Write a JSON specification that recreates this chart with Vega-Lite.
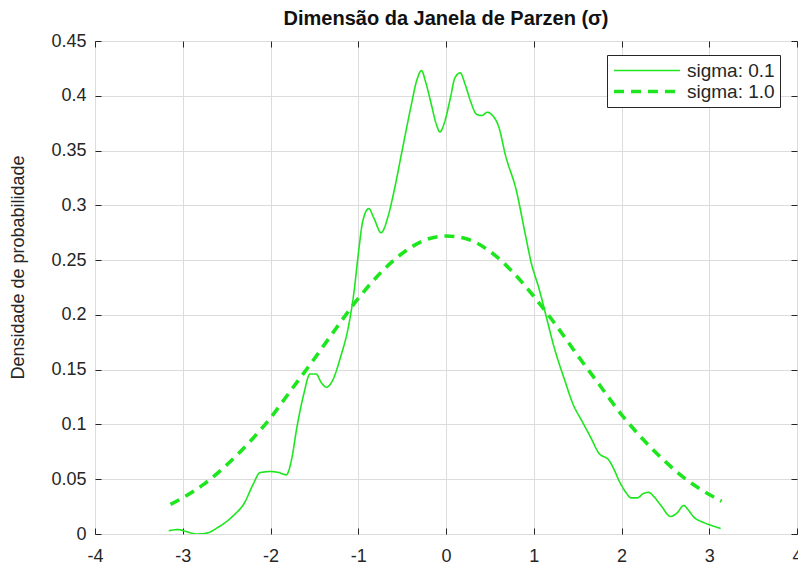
{
  "$schema": "https://vega.github.io/schema/vega-lite/v6.json",
  "width": 702,
  "height": 493,
  "autosize": "none",
  "padding": {"left": 95, "top": 41, "right": 1, "bottom": 31},
  "background": "white",
  "title": {
    "text": "Dimensão da Janela de Parzen (σ)",
    "font": "Liberation Sans",
    "fontSize": 20,
    "fontWeight": "bold",
    "color": "#111111",
    "anchor": "middle",
    "baseline": "alphabetic",
    "offset": 12,
    "dy": 25
  },
  "config": {
    "view": {"stroke": "#262626", "strokeWidth": 1},
    "axis": {
      "labelFont": "Liberation Sans",
      "labelFontSize": 18,
      "labelColor": "#262626",
      "titleFont": "Liberation Sans",
      "titleFontSize": 18,
      "titleFontWeight": "normal",
      "titleColor": "#262626",
      "domain": false,
      "tickColor": "#262626",
      "tickSize": -6,
      "gridColor": "#dcdcdc",
      "gridWidth": 1
    }
  },
  "data": {
    "values": [
      {"x": -3.14, "y": 0.027, "serie": "sigma: 1.0"},
      {"x": -3.0, "y": 0.033, "serie": "sigma: 1.0"},
      {"x": -2.75, "y": 0.046, "serie": "sigma: 1.0"},
      {"x": -2.5, "y": 0.063, "serie": "sigma: 1.0"},
      {"x": -2.25, "y": 0.083, "serie": "sigma: 1.0"},
      {"x": -2.0, "y": 0.106, "serie": "sigma: 1.0"},
      {"x": -1.75, "y": 0.133, "serie": "sigma: 1.0"},
      {"x": -1.5, "y": 0.160, "serie": "sigma: 1.0"},
      {"x": -1.25, "y": 0.188, "serie": "sigma: 1.0"},
      {"x": -1.0, "y": 0.215, "serie": "sigma: 1.0"},
      {"x": -0.75, "y": 0.238, "serie": "sigma: 1.0"},
      {"x": -0.5, "y": 0.256, "serie": "sigma: 1.0"},
      {"x": -0.25, "y": 0.268, "serie": "sigma: 1.0"},
      {"x": 0.0, "y": 0.272, "serie": "sigma: 1.0"},
      {"x": 0.25, "y": 0.269, "serie": "sigma: 1.0"},
      {"x": 0.5, "y": 0.258, "serie": "sigma: 1.0"},
      {"x": 0.75, "y": 0.240, "serie": "sigma: 1.0"},
      {"x": 1.0, "y": 0.217, "serie": "sigma: 1.0"},
      {"x": 1.25, "y": 0.191, "serie": "sigma: 1.0"},
      {"x": 1.5, "y": 0.163, "serie": "sigma: 1.0"},
      {"x": 1.75, "y": 0.136, "serie": "sigma: 1.0"},
      {"x": 2.0, "y": 0.109, "serie": "sigma: 1.0"},
      {"x": 2.25, "y": 0.086, "serie": "sigma: 1.0"},
      {"x": 2.5, "y": 0.066, "serie": "sigma: 1.0"},
      {"x": 2.75, "y": 0.049, "serie": "sigma: 1.0"},
      {"x": 3.0, "y": 0.036, "serie": "sigma: 1.0"},
      {"x": 3.14, "y": 0.030, "serie": "sigma: 1.0"},

      {"x": -3.16, "y": 0.003, "serie": "sigma: 0.1"},
      {"x": -3.05, "y": 0.004, "serie": "sigma: 0.1"},
      {"x": -2.95, "y": 0.002, "serie": "sigma: 0.1"},
      {"x": -2.85, "y": 0.000, "serie": "sigma: 0.1"},
      {"x": -2.72, "y": 0.001, "serie": "sigma: 0.1"},
      {"x": -2.6, "y": 0.006, "serie": "sigma: 0.1"},
      {"x": -2.42, "y": 0.017, "serie": "sigma: 0.1"},
      {"x": -2.3, "y": 0.028, "serie": "sigma: 0.1"},
      {"x": -2.2, "y": 0.045, "serie": "sigma: 0.1"},
      {"x": -2.12, "y": 0.056, "serie": "sigma: 0.1"},
      {"x": -2.0, "y": 0.057, "serie": "sigma: 0.1"},
      {"x": -1.9, "y": 0.056, "serie": "sigma: 0.1"},
      {"x": -1.82, "y": 0.054, "serie": "sigma: 0.1"},
      {"x": -1.76, "y": 0.068, "serie": "sigma: 0.1"},
      {"x": -1.7, "y": 0.097, "serie": "sigma: 0.1"},
      {"x": -1.62, "y": 0.128, "serie": "sigma: 0.1"},
      {"x": -1.55, "y": 0.146, "serie": "sigma: 0.1"},
      {"x": -1.48, "y": 0.146, "serie": "sigma: 0.1"},
      {"x": -1.42, "y": 0.138, "serie": "sigma: 0.1"},
      {"x": -1.36, "y": 0.134, "serie": "sigma: 0.1"},
      {"x": -1.3, "y": 0.139, "serie": "sigma: 0.1"},
      {"x": -1.2, "y": 0.162, "serie": "sigma: 0.1"},
      {"x": -1.11, "y": 0.190, "serie": "sigma: 0.1"},
      {"x": -1.05, "y": 0.220, "serie": "sigma: 0.1"},
      {"x": -1.0, "y": 0.255, "serie": "sigma: 0.1"},
      {"x": -0.95, "y": 0.285, "serie": "sigma: 0.1"},
      {"x": -0.88, "y": 0.297, "serie": "sigma: 0.1"},
      {"x": -0.82, "y": 0.288, "serie": "sigma: 0.1"},
      {"x": -0.74, "y": 0.275, "serie": "sigma: 0.1"},
      {"x": -0.66, "y": 0.290, "serie": "sigma: 0.1"},
      {"x": -0.6, "y": 0.310, "serie": "sigma: 0.1"},
      {"x": -0.5, "y": 0.350, "serie": "sigma: 0.1"},
      {"x": -0.4, "y": 0.390, "serie": "sigma: 0.1"},
      {"x": -0.33, "y": 0.415, "serie": "sigma: 0.1"},
      {"x": -0.28, "y": 0.423, "serie": "sigma: 0.1"},
      {"x": -0.23, "y": 0.412, "serie": "sigma: 0.1"},
      {"x": -0.17, "y": 0.393, "serie": "sigma: 0.1"},
      {"x": -0.11, "y": 0.374, "serie": "sigma: 0.1"},
      {"x": -0.07, "y": 0.367, "serie": "sigma: 0.1"},
      {"x": -0.02, "y": 0.375, "serie": "sigma: 0.1"},
      {"x": 0.05, "y": 0.398, "serie": "sigma: 0.1"},
      {"x": 0.1, "y": 0.416, "serie": "sigma: 0.1"},
      {"x": 0.16, "y": 0.421, "serie": "sigma: 0.1"},
      {"x": 0.22, "y": 0.410, "serie": "sigma: 0.1"},
      {"x": 0.28, "y": 0.395, "serie": "sigma: 0.1"},
      {"x": 0.35, "y": 0.383, "serie": "sigma: 0.1"},
      {"x": 0.41, "y": 0.382, "serie": "sigma: 0.1"},
      {"x": 0.47, "y": 0.385, "serie": "sigma: 0.1"},
      {"x": 0.53, "y": 0.382, "serie": "sigma: 0.1"},
      {"x": 0.6, "y": 0.372, "serie": "sigma: 0.1"},
      {"x": 0.68, "y": 0.345, "serie": "sigma: 0.1"},
      {"x": 0.8, "y": 0.314, "serie": "sigma: 0.1"},
      {"x": 0.9, "y": 0.275, "serie": "sigma: 0.1"},
      {"x": 0.97, "y": 0.248, "serie": "sigma: 0.1"},
      {"x": 1.06, "y": 0.224, "serie": "sigma: 0.1"},
      {"x": 1.15, "y": 0.196, "serie": "sigma: 0.1"},
      {"x": 1.23, "y": 0.171, "serie": "sigma: 0.1"},
      {"x": 1.35, "y": 0.141, "serie": "sigma: 0.1"},
      {"x": 1.45, "y": 0.118, "serie": "sigma: 0.1"},
      {"x": 1.55, "y": 0.103, "serie": "sigma: 0.1"},
      {"x": 1.65, "y": 0.088, "serie": "sigma: 0.1"},
      {"x": 1.74, "y": 0.074, "serie": "sigma: 0.1"},
      {"x": 1.86, "y": 0.067, "serie": "sigma: 0.1"},
      {"x": 1.92, "y": 0.058, "serie": "sigma: 0.1"},
      {"x": 1.97, "y": 0.049, "serie": "sigma: 0.1"},
      {"x": 2.05, "y": 0.038, "serie": "sigma: 0.1"},
      {"x": 2.11, "y": 0.033, "serie": "sigma: 0.1"},
      {"x": 2.18, "y": 0.033, "serie": "sigma: 0.1"},
      {"x": 2.25, "y": 0.037, "serie": "sigma: 0.1"},
      {"x": 2.31, "y": 0.038, "serie": "sigma: 0.1"},
      {"x": 2.37, "y": 0.034, "serie": "sigma: 0.1"},
      {"x": 2.45, "y": 0.026, "serie": "sigma: 0.1"},
      {"x": 2.56, "y": 0.016, "serie": "sigma: 0.1"},
      {"x": 2.63, "y": 0.019, "serie": "sigma: 0.1"},
      {"x": 2.71, "y": 0.026, "serie": "sigma: 0.1"},
      {"x": 2.76, "y": 0.022, "serie": "sigma: 0.1"},
      {"x": 2.83, "y": 0.015, "serie": "sigma: 0.1"},
      {"x": 2.92, "y": 0.011, "serie": "sigma: 0.1"},
      {"x": 3.02, "y": 0.008, "serie": "sigma: 0.1"},
      {"x": 3.13, "y": 0.005, "serie": "sigma: 0.1"}
    ]
  },
  "layer": [
    {
      "mark": {"type": "line", "interpolate": "monotone", "color": "#1ee61e", "clip": true},
      "encoding": {
        "x": {
          "field": "x",
          "type": "quantitative",
          "scale": {"domain": [-4, 4], "nice": false, "zero": false},
          "axis": {
            "orient": "bottom",
            "title": null,
            "values": [-4, -3, -2, -1, 0, 1, 2, 3, 4],
            "labelExpr": "datum.value + ''",
            "labelPadding": 19,
            "labelFlush": false,
            "labelOverlap": false
          }
        },
        "y": {
          "field": "y",
          "type": "quantitative",
          "scale": {"domain": [0, 0.45], "nice": false},
          "axis": {
            "orient": "left",
            "title": "Densidade de probabilidade",
            "values": [0, 0.05, 0.1, 0.15, 0.2, 0.25, 0.3, 0.35, 0.4, 0.45],
            "format": "~g",
            "labelPadding": 15,
            "labelFlush": false,
            "labelOverlap": false,
            "titleX": -77,
            "titleY": 226,
            "titleBaseline": "middle"
          }
        },
        "strokeDash": {
          "field": "serie",
          "type": "nominal",
          "scale": {"domain": ["sigma: 0.1", "sigma: 1.0"], "range": [[1, 0], [10, 7]]},
          "legend": {
            "title": null,
            "orient": "none",
            "legendX": 512,
            "legendY": 14,
            "symbolType": "stroke",
            "symbolSize": 4356,
            "symbolStrokeColor": "#1ee61e",
            "labelFont": "Liberation Sans",
            "labelFontSize": 19,
            "labelColor": "#262626",
            "labelOffset": 5,
            "clipHeight": 21,
            "rowPadding": 0,
            "padding": 5,
            "strokeColor": "#262626",
            "fillColor": "white"
          }
        },
        "strokeWidth": {
          "field": "serie",
          "type": "nominal",
          "scale": {"domain": ["sigma: 0.1", "sigma: 1.0"], "range": [1.6, 3.6]},
          "legend": {
            "title": null,
            "orient": "none",
            "legendX": 512,
            "legendY": 14
          }
        }
      }
    },
    {
      "mark": {"type": "point", "opacity": 0},
      "encoding": {
        "x": {
          "field": "x",
          "type": "quantitative",
          "axis": {
            "orient": "top",
            "title": null,
            "values": [-4, -3, -2, -1, 0, 1, 2, 3, 4],
            "labels": false,
            "grid": false
          }
        },
        "y": {
          "field": "y",
          "type": "quantitative",
          "axis": {
            "orient": "right",
            "title": null,
            "values": [0, 0.05, 0.1, 0.15, 0.2, 0.25, 0.3, 0.35, 0.4, 0.45],
            "labels": false,
            "grid": false
          }
        }
      }
    }
  ],
  "resolve": {"axis": {"x": "independent", "y": "independent"}}
}
